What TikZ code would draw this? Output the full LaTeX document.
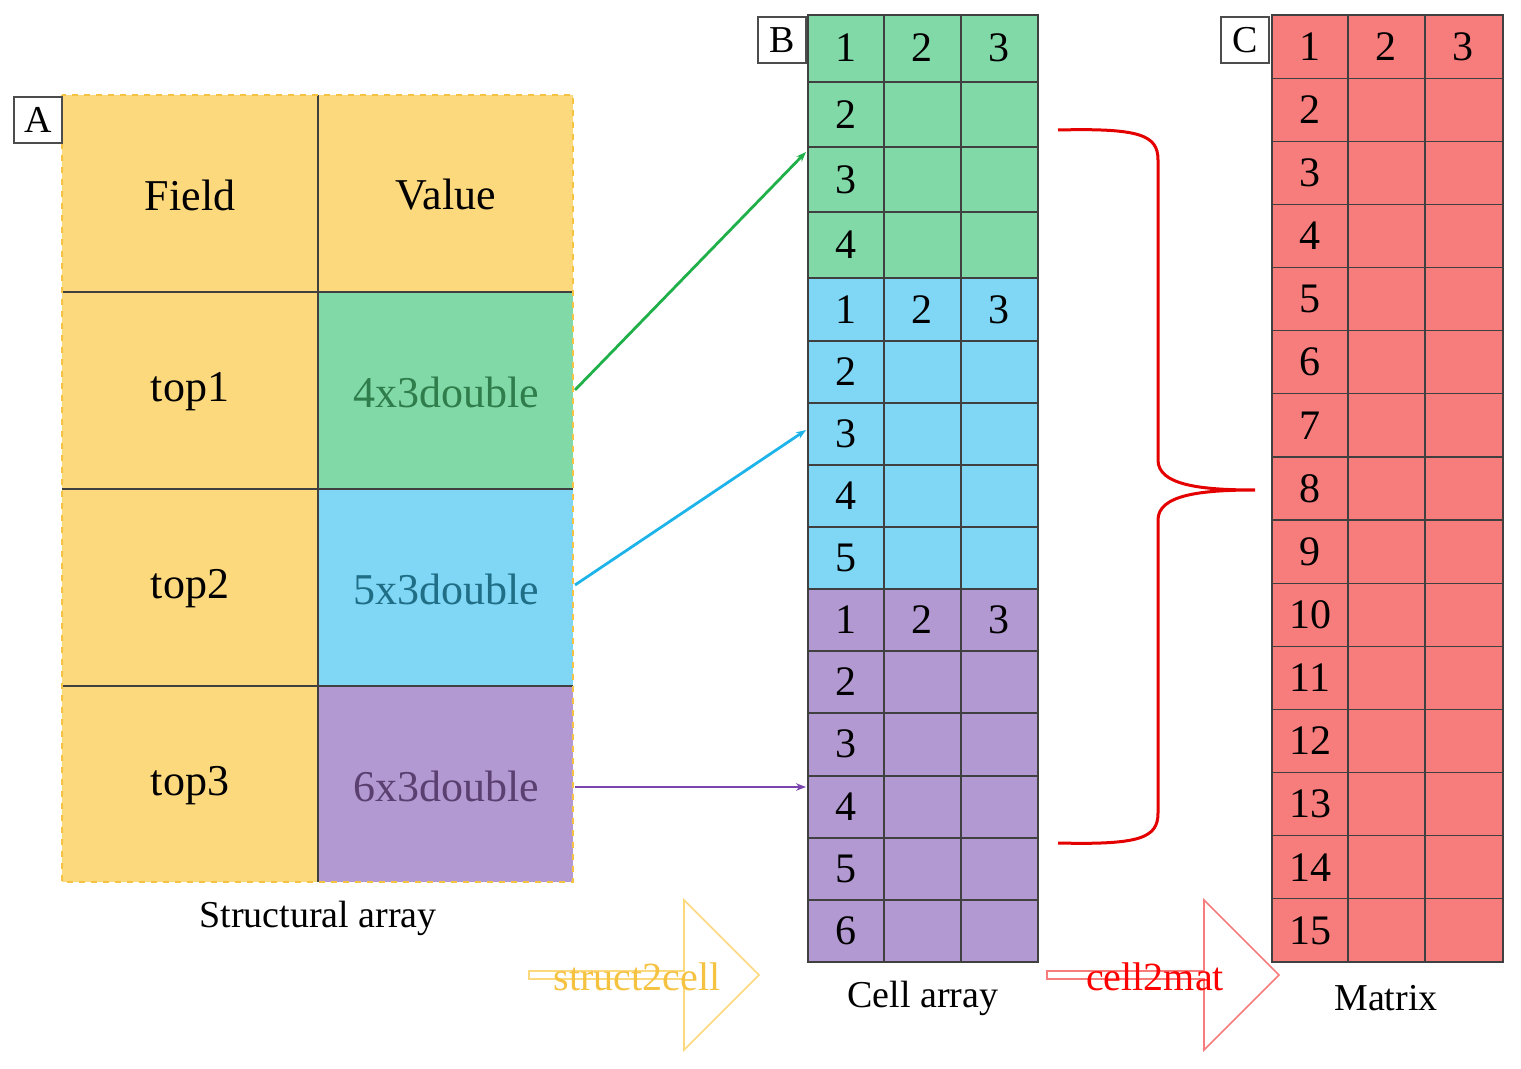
\documentclass[tikz,border=0pt]{standalone}
\usepackage{fontspec}
\setmainfont{Liberation Serif}
\usetikzlibrary{shapes.arrows,arrows.meta}
\definecolor{cy}{HTML}{FDD97E}
\definecolor{cg}{HTML}{82D9A8}
\definecolor{cb}{HTML}{7FD6F5}
\definecolor{cp}{HTML}{B399D1}
\definecolor{cr}{HTML}{F77C7C}
\definecolor{tg}{HTML}{2E7D4A}
\definecolor{tb}{HTML}{1F6E86}
\definecolor{tp}{HTML}{5A4070}
\definecolor{dg}{HTML}{1FB04A}
\definecolor{db}{HTML}{1EB4EA}
\definecolor{dp}{HTML}{7B45B0}
\definecolor{dy}{HTML}{F5C242}
\begin{document}
\begin{tikzpicture}[x=0.5pt,y=-0.5pt,
  grid/.style={draw=black!75,line width=0.6pt},
  lab/.style={draw=black!70,fill=white,line width=0.6pt,font=\fontsize{19}{20}\selectfont,inner sep=0pt,minimum width=24pt,minimum height=23pt},
  big/.style={font=\fontsize{22}{24}\selectfont},
  num/.style={font=\fontsize{21}{24}\selectfont},
  captxt/.style={font=\fontsize{19}{22}\selectfont}]
\useasboundingbox (0,0) rectangle (1521,1069);
% Panel A
\fill[cy] (62,95) rectangle (573,882);
\fill[cg] (318,292) rectangle (573,489);
\fill[cb] (318,489) rectangle (573,686);
\fill[cp] (318,686) rectangle (573,882);
\draw[grid] (318,95)--(318,882);
\foreach \y in {292,489,686} \draw[grid] (62,\y)--(573,\y);
\draw[dy,dashed,line width=1.2pt] (62,95) rectangle (573,882);
\node[lab] (A) at (38,120) {A};
\node[big] (f) at (190,195) {Field};
\node[big] (v) at (446,195) {Value};
\node[big] (t1) at (190,392) {top1};
\node[big] (t2) at (190,589) {top2};
\node[big] (t3) at (190,786) {top3};
\node[big,text=tg] (v1) at (446,392) {4x3double};
\node[big,text=tb] (v2) at (446,589) {5x3double};
\node[big,text=tp] (v3) at (446,786) {6x3double};
\node[captxt] (sa) at (318,918) {Structural array};
% Panel B
\fill[cg] (808,15) rectangle (1038,278);
\fill[cb] (808,278) rectangle (1038,589);
\fill[cp] (808,589) rectangle (1038,962);
\foreach \y in {82,147,212,278,341,403,465,527,589,651,713,776,838,900} \draw[grid] (808,\y)--(1038,\y);
\draw[grid] (884,15)--(884,962) (961,15)--(961,962);
\draw[grid] (808,15) rectangle (1038,962);
\node[lab] (B) at (782,40) {B};
\foreach \i/\y in {1/48,2/115,3/180,4/245} \node[num] at (846,\y) {\i};
\node[num] at (922,48) {2}; \node[num] at (999,48) {3};
\foreach \i/\y in {1/310,2/372,3/434,4/496,5/558} \node[num] at (846,\y) {\i};
\node[num] at (922,310) {2}; \node[num] at (999,310) {3};
\foreach \i/\y in {1/620,2/682,3/744,4/807,5/869,6/931} \node[num] at (846,\y) {\i};
\node[num] at (922,620) {2}; \node[num] at (999,620) {3};
\node[captxt] (ca) at (923,998) {Cell array};
\coordinate (b1) at (806,152);
\coordinate (b2) at (806,430);
\coordinate (b3) at (806,787);
% Panel C
\fill[cr] (1272,15) rectangle (1503,962);
\foreach \k in {1,...,14} \draw[grid] (1272,{15+\k*63.13})--(1503,{15+\k*63.13});
\draw[grid] (1348,15)--(1348,962) (1425,15)--(1425,962);
\draw[grid] (1272,15) rectangle (1503,962);
\node[lab] (C) at (1245,40) {C};
\foreach \k in {1,...,15} \node[num] at (1310,{15+(\k-0.5)*63.13}) {\k};
\node[num] at (1386,46.5) {2}; \node[num] at (1463,46.5) {3};
\node[captxt] (mx) at (1386,998) {Matrix};
% arrows
\draw[dg,line width=1.4pt,-{Stealth[length=5pt]}] (575,390) -- (b1);
\draw[db,line width=1.4pt,-{Stealth[length=5pt]}] (575,585) -- (b2);
\draw[dp,line width=1.4pt,-{Stealth[length=5pt]}] (575,787) -- (b3);
% brace
\draw[red!90!black,line width=1.5pt] (1058,130) .. controls (1140,128) and (1158,135) .. (1158,160)
 -- (1158,460) .. controls (1158,485) and (1200,490) .. (1255,490)
 (1058,843) .. controls (1140,845) and (1158,838) .. (1158,813)
 -- (1158,520) .. controls (1158,495) and (1200,490) .. (1255,490);
% block arrows
\node[single arrow,draw=cy,line width=0.8pt,minimum width=75pt,minimum height=115pt,inner sep=0pt] (s2c) at (642,975) {};
\node[font=\fontsize{20}{22}\selectfont,text=dy] (s2ct) at (637,977) {struct2cell};
\node[single arrow,draw=cr,line width=0.8pt,minimum width=75pt,minimum height=116pt,inner sep=0pt] (c2m) at (1161,975) {};
\node[font=\fontsize{20}{22}\selectfont,text=red] (c2mt) at (1155,977) {cell2mat};
\end{tikzpicture}
\end{document}
